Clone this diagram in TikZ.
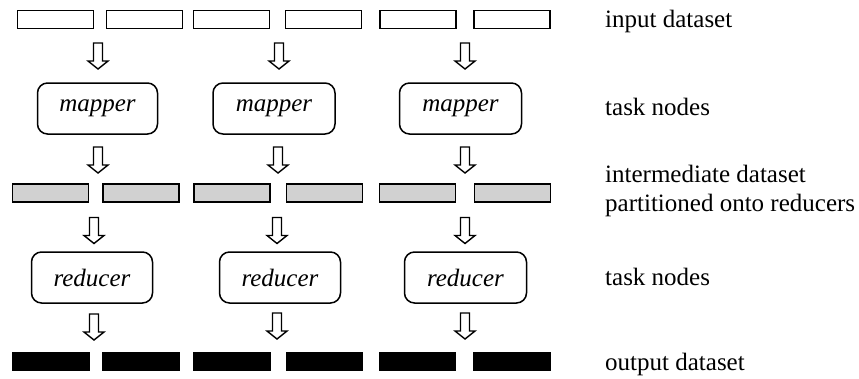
\documentclass[tikz,border=0pt]{standalone}
\usepackage{fontspec}
\setmainfont{Liberation Serif}
\begin{document}
\begin{tikzpicture}[x=1pt,y=-1pt,
  every node/.style={font=\fontsize{25}{30}\selectfont},
  inrect/.style={draw=black, line width=1.8pt, rectangle, minimum width=76pt, minimum height=18pt, inner sep=0pt, fill=white},
  midrect/.style={inrect, fill=black!18},
  outrect/.style={inrect, fill=black},
  task/.style={draw=black, line width=1.5pt, rectangle, rounded corners=10pt, inner sep=0pt, minimum height=51pt, font=\fontsize{25}{30}\selectfont\itshape},
  lbl/.style={anchor=base west, inner sep=0pt},
  darr/.pic={\draw[line width=1.4pt, fill=white, line join=miter] (-4.5,-13) -- (-4.5,5) -- (-10,5) -- (0,13) -- (10,5) -- (4.5,5) -- (4.5,-13) -- cycle;}
]
\useasboundingbox (0,0) rectangle (859,378);

% input dataset
\node[inrect] (i1) at (55.5,19.5) {};
\node[inrect] (i2) at (144.5,19.5) {};
\node[inrect] (i3) at (231.5,19.5) {};
\node[inrect] (i4) at (323.5,19.5) {};
\node[inrect] (i5) at (418,19.5) {};
\node[inrect] (i6) at (512,19.5) {};

% mappers
\node[task, minimum width=120pt] (m1) at (97.5,108.5) {mapper};
\node[task, minimum width=122pt] (m2) at (274,108.5) {mapper};
\node[task, minimum width=122pt] (m3) at (460.5,108.5) {mapper};

% intermediate dataset
\node[midrect] (d1) at (50.5,193) {};
\node[midrect] (d2) at (141,193) {};
\node[midrect] (d3) at (232,193) {};
\node[midrect] (d4) at (324.5,193) {};
\node[midrect] (d5) at (417.5,193) {};
\node[midrect] (d6) at (512.5,193) {};

% reducers
\node[task, minimum width=121pt] (r1) at (92,277.5) {reducer};
\node[task, minimum width=121pt] (r2) at (280,277.5) {reducer};
\node[task, minimum width=122pt] (r3) at (465.5,277.5) {reducer};

% output dataset
\node[outrect] (o1) at (51,361.5) {};
\node[outrect] (o2) at (141,361.5) {};
\node[outrect] (o3) at (232,361.5) {};
\node[outrect] (o4) at (324.5,361.5) {};
\node[outrect] (o5) at (417.5,361.5) {};
\node[outrect] (o6) at (512,361.5) {};

% block arrows
\pic (a1) at (98,56) {darr};
\pic (a2) at (279,56) {darr};
\pic (a3) at (465,56) {darr};
\pic (b1) at (98,160) {darr};
\pic (b2) at (278,160) {darr};
\pic (b3) at (465,160) {darr};
\pic (c1) at (94,230.5) {darr};
\pic (c2) at (277,230.5) {darr};
\pic (c3) at (465,230.5) {darr};
\pic (e1) at (94,327) {darr};
\pic (e2) at (277,326) {darr};
\pic (e3) at (465,326) {darr};

% labels
\node[lbl] (l1) at (605,27) {input dataset};
\node[lbl] (l2) at (605,115) {task nodes};
\node[lbl] (l3) at (605,182) {intermediate dataset};
\node[lbl] (l4) at (605,211) {partitioned onto reducers};
\node[lbl] (l5) at (605,285) {task nodes};
\node[lbl] (l6) at (605,370) {output dataset};
\end{tikzpicture}
\end{document}
